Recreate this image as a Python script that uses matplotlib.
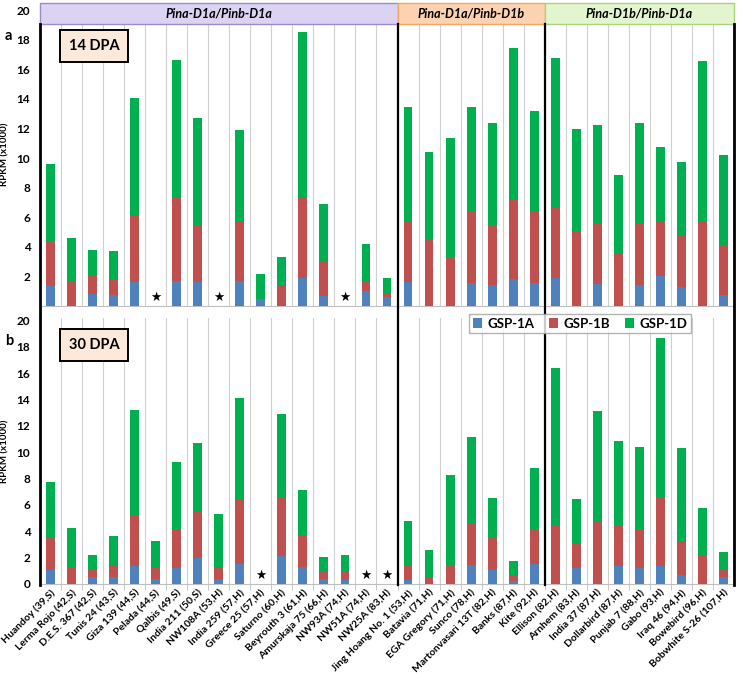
import numpy as np
import matplotlib
matplotlib.use('Agg')
import matplotlib.pyplot as plt
from matplotlib.patches import Rectangle
from matplotlib.lines import Line2D

plt.rcParams['font.family'] = ['Lato', 'DejaVu Sans']

# ---------------- data ----------------
varieties = ['Huandoy (39,S)', 'Lerma Rojo (42,S)', 'D.E.S. 367 (42,S)', 'Tunis 24 (43,S)',
             'Giza 139 (44,S)', 'Pelada (44,S)', 'Qalbis (49,S)', 'India 211 (50,S)',
             'NW108A (53,H)', 'India 259 (57,H)', 'Greece 25 (57,H)', 'Saturno (60,H)',
             'Beyrouth 3 (61,H)', 'Amurskaja 75 (66,H)', 'NW93A (74,H)', 'NW51A (74,H)',
             'NW25A (83,H)', 'Jing Hoang No. 1 (53,H)', 'Batavia (71,H)', 'EGA Gregory (71,H)',
             'Sunco (78,H)', 'Martonvasari 13T (82,H)', 'Banks (87,H)', 'Kite (92,H)',
             'Ellison (82,H)', 'Arnhem (83,H)', 'India 37 (87,H)', 'Dollarbird (87,H)',
             'Punjab 7 (88,H)', 'Gabo (93,H)', 'Iraq 46 (94,H)', 'Bowebird (96,H)',
             'Bobwhite S-26 (107,H)']

groups = ['Pina-D1a/Pinb-D1a', 'Pina-D1a/Pinb-D1b', 'Pina-D1b/Pinb-D1a']
group_sizes = [17, 7, 9]

nan = np.nan
# 14 DPA (RPKM x1000), nan = not analysed (star)
a_1a = [1.35, 0, 0.80, 0.75, 1.62, nan, 1.67, 1.62, nan, 1.67, 0.50, 0, 1.87, 0.68, nan, 1.04, 0.59,
        1.64, 0, 0, 1.53, 1.42, 1.80, 1.58,
        1.91, 0, 1.49, 0, 1.42, 2.03, 1.26, 0, 0.74]
a_1b = [3.00, 1.65, 1.23, 1.00, 4.48, nan, 5.60, 3.78, nan, 4.07, 0, 1.35, 5.47, 2.32, nan, 0.60, 0.27,
        4.13, 4.53, 3.29, 4.82, 4.01, 5.43, 4.77,
        4.71, 5.09, 4.05, 3.60, 4.17, 3.67, 3.47, 5.72, 3.36]
a_1d = [5.25, 2.95, 1.75, 2.00, 7.95, nan, 9.36, 7.30, nan, 6.16, 1.66, 1.94, 11.16, 3.87, nan, 2.55, 1.01,
        7.71, 5.90, 8.05, 7.13, 6.92, 10.19, 6.83,
        10.17, 6.88, 6.70, 5.25, 6.76, 5.07, 5.03, 10.87, 6.11]

# 30 DPA
b_1a = [1.10, 0, 0.50, 0.55, 1.38, 0.35, 1.23, 2.00, 0.35, 1.50, nan, 2.10, 1.30, 0.35, 0.30, nan, nan,
        0.30, 0, 0, 1.43, 1.10, 0.25, 1.50,
        0, 1.23, 0, 1.35, 1.23, 1.35, 0.68, 0, 0.50]
b_1b = [2.40, 1.25, 0.55, 0.88, 3.87, 0.88, 2.95, 3.43, 0.88, 4.93, nan, 4.50, 2.43, 0.65, 0.70, nan, nan,
        1.05, 0.45, 1.35, 3.17, 2.45, 0.35, 2.68,
        4.50, 1.82, 4.73, 3.13, 2.95, 5.25, 2.57, 2.15, 0.60]
b_1d = [4.25, 3.00, 1.13, 2.25, 7.95, 2.07, 5.12, 5.27, 4.12, 7.70, nan, 6.30, 3.40, 1.08, 1.20, nan, nan,
        3.45, 2.10, 6.95, 6.60, 2.95, 1.15, 4.62,
        11.90, 3.38, 8.40, 6.40, 6.25, 12.10, 7.10, 3.65, 1.30]

panels = [('a', '14 DPA', a_1a, a_1b, a_1d),
          ('b', '30 DPA', b_1a, b_1b, b_1d)]

c_a, c_b, c_d = '#4F81BD', '#C0504D', '#00B050'
head_fc = ['#DCD2F2', '#FBD3B0', '#E3F5CF']
head_ec = ['#9A8CC8', '#F0A868', '#A8D47C']

W, H = 738, 673
fig = plt.figure(figsize=(W / 100, H / 100), dpi=100)

x = np.arange(len(varieties))
xmin, xmax = -0.5, len(varieties) - 0.5
left_px, right_px = 40, 734
# (top px, bottom px, ymax, label y px, dpa box y px) per panel
boxes = [(3, 306, 20.49, 36, 46), (318, 584, 20.2, 341, 345)]
axes = []
for (lab, dpa, s1, s2, s3), (tp, bt, ymax, lab_y, box_y) in zip(panels, boxes):
    ax = fig.add_axes([left_px / W, 1 - bt / H, (right_px - left_px) / W, (bt - tp) / H])
    axes.append(ax)
    s1, s2, s3 = np.array(s1), np.array(s2), np.array(s3)
    ax.bar(x, s1, width=0.42, color=c_a, label='GSP-1A', zorder=3)
    ax.bar(x, s2, width=0.42, bottom=s1, color=c_b, label='GSP-1B', zorder=3)
    ax.bar(x, s3, width=0.42, bottom=s1 + s2, color=c_d, label='GSP-1D', zorder=3)
    for xi in x[np.isnan(s1)]:
        ax.text(xi, 0.12, '★', ha='center', va='bottom', fontsize=9,
                family=['DejaVu Sans'], zorder=4)
    ax.set_xlim(xmin, xmax)
    ax.set_ylim(0, ymax)
    # vertical grid at category boundaries
    for b in np.arange(0.5, len(varieties) - 1, 1):
        ax.axvline(b, color='#D0D0D0', lw=0.8, zorder=1)
    for sp in ['top', 'left', 'right']:
        ax.spines[sp].set_visible(False)
    ax.spines['bottom'].set_color('#BFBFBF')
    ax.tick_params(axis='y', length=0, labelsize=8.5, pad=7)
    ax.set_ylabel('RPKM (x1000)', fontsize=7, fontweight='bold', labelpad=5)
    fig.text(5 / W, 1 - lab_y / H, lab, fontsize=10.5, fontweight='bold',
             ha='left', va='center')
    fig.text(94 / W, 1 - box_y / H, dpa, fontsize=10.5, fontweight='bold',
             ha='center', va='center',
             bbox=dict(boxstyle='square,pad=0.6', fc='#FDE9D9', ec='black', lw=1.4))
    ax.set_xticks(np.arange(0.5, len(varieties) - 1, 1), minor=True)
    ax.tick_params(axis='x', which='minor', length=4, color='#BFBFBF')

axes[0].set_yticks(np.arange(2, 21, 2))
axes[0].set_xticks(x)
axes[0].tick_params(axis='x', which='both', length=0, labelbottom=False)
axes[1].set_yticks(np.arange(0, 21, 2))
axes[1].set_xticks(x)
axes[1].set_xticklabels(varieties, rotation=45, ha='right', rotation_mode='anchor',
                        fontsize=7.5, fontweight='bold')
axes[1].tick_params(axis='x', which='major', length=0, pad=3)
for t in axes[0].get_yticklabels() + axes[1].get_yticklabels():
    t.set_fontweight('bold')

# header bands over panel a
ax = axes[0]
ytop = boxes[0][2]
head_lo = ytop - (24 - 3) / ((306 - 3) / ytop)
start = xmin
for g, n, fc, ec in zip(groups, group_sizes, head_fc, head_ec):
    ax.add_patch(Rectangle((start, head_lo), n, ytop - head_lo, fc=fc, ec=ec,
                           lw=1, zorder=5, clip_on=False))
    ax.text(start + n / 2, (head_lo + ytop) / 2, g, ha='center', va='center',
            fontsize=9, fontweight='bold', style='italic', zorder=6)
    start += n

# black vertical frame / group divider lines spanning both panels
def fx(v):
    return (left_px + (right_px - left_px) * (v - xmin) / (xmax - xmin)) / W

y_top = 1 - 24 / H
y_bot = 1 - 585 / H
edges = [xmin] + list(xmin + np.cumsum(group_sizes))
for i, e in enumerate(edges):
    lw = 2 if i in (0, len(edges) - 1) else 1.6
    fig.add_artist(Line2D([fx(e), fx(e)], [y_top, y_bot], color='black', lw=lw, zorder=10))

handles = [Rectangle((0, 0), 1, 1, fc=c) for c in (c_a, c_b, c_d)]
fig.legend(handles, ['GSP-1A', 'GSP-1B', 'GSP-1D'], loc='center', ncol=3,
           bbox_to_anchor=(580 / W, 1 - 323.5 / H), frameon=True,
           fancybox=False, edgecolor='#A0A0A0', handlelength=0.7, handleheight=0.7,
           handletextpad=0.4, columnspacing=1.1, borderpad=0.3,
           prop=dict(weight='bold', size=9.5)).set_zorder(11)

fig.savefig('out.png', dpi=100)
